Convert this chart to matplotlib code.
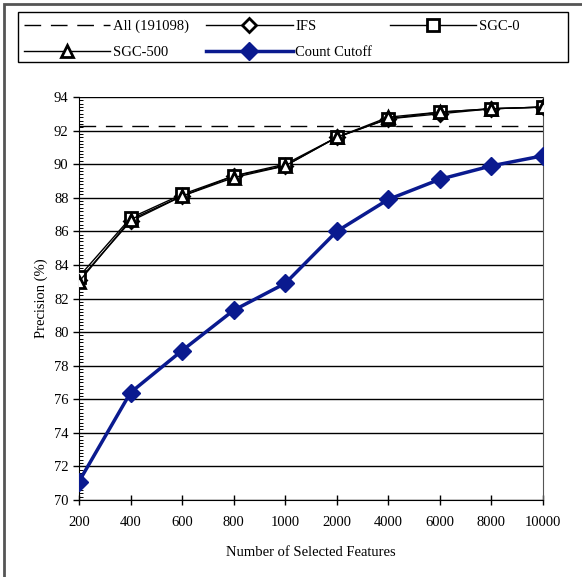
import matplotlib.pyplot as plt
from matplotlib.patches import Rectangle

features = ["200", "400", "600", "800", "1000", "2000", "4000", "6000", "8000", "10000"]
all_features = 92.3
ifs = [83.1, 86.6, 88.1, 89.3, 89.9, 91.6, 92.7, 93.0, 93.3, 93.4]
sgc0 = [83.3, 86.8, 88.2, 89.3, 90.0, 91.6, 92.7, 93.1, 93.3, 93.4]
sgc500 = [83.0, 86.7, 88.1, 89.2, 89.9, 91.6, 92.8, 93.1, 93.3, 93.4]
count_cutoff = [71.1, 76.4, 78.9, 81.3, 82.9, 86.0, 87.9, 89.1, 89.9, 90.5]
yticks = list(range(70, 95, 2))

plt.rcParams['font.family'] = ['Liberation Serif', 'DejaVu Serif']
plt.rcParams['font.size'] = 10.5

fig = plt.figure(figsize=(5.82, 5.77), dpi=100)
ax = fig.add_axes([79/582, 1 - 500/577, (543-79)/582, (500-97)/577])

x = list(range(len(features)))
navy = '#0A1A8F'

h_all = ax.axhline(all_features, color='black', lw=1, dashes=(12, 7), label='All (191098)', zorder=3)
h_ifs, = ax.plot(x, ifs, color='black', lw=1, marker='D', ms=7.5, mfc='white', mec='black', mew=2, label='IFS', zorder=4)
h_s0, = ax.plot(x, sgc0, color='black', lw=1, marker='s', ms=9, mfc='white', mec='black', mew=2, label='SGC-0', zorder=4)
h_s500, = ax.plot(x, sgc500, color='black', lw=1, marker='^', ms=9, mfc='white', mec='black', mew=2, label='SGC-500', zorder=4)
h_cc, = ax.plot(x, count_cutoff, color=navy, lw=2.5, marker='D', ms=9, mfc=navy, mec=navy, label='Count Cutoff', zorder=5)

ax.set_xlim(0, len(features) - 1)
ax.set_ylim(70, 94)
ax.set_xticks(x)
ax.set_xticklabels(features)
ax.set_yticks(yticks)
ax.set_yticks([v / 5 for v in range(350, 471)], minor=True)
ax.tick_params(axis='x', direction='inout', length=7, width=1, pad=8)
ax.tick_params(axis='y', which='major', direction='out', length=4, width=1)
ax.tick_params(axis='y', which='minor', direction='in', length=3, width=0.7)
ax.yaxis.grid(True, color='black', lw=1)
ax.set_axisbelow(True)
for s in ['left', 'bottom']:
    ax.spines[s].set_color('black')
ax.spines['right'].set_color('#555555')
ax.spines['top'].set_visible(False)

ax.set_xlabel('Number of Selected Features', labelpad=12)
ax.set_ylabel('Precision (%)')

# column-major order so the legend reads row by row
handles = [h_all, h_s500, h_ifs, h_cc, h_s0]
fig.legend(handles, [h.get_label() for h in handles], loc='upper left',
           bbox_to_anchor=(24/582, 1 - 20/577), ncol=3, frameon=False,
           handlelength=5.9, numpoints=1, columnspacing=1.2, handletextpad=0.2,
           borderpad=0, borderaxespad=0, labelspacing=0.85)

fig.patches.append(Rectangle((18/582, 1 - 62/577), 550/582, 50/577, transform=fig.transFigure,
                             fill=False, edgecolor='black', lw=1))
fig.patches.append(Rectangle((4/582, -0.1), 1.2, 1 - 4/577 + 0.1, transform=fig.transFigure,
                             fill=False, edgecolor='#555555', lw=2))

fig.savefig('out.png', dpi=100)
